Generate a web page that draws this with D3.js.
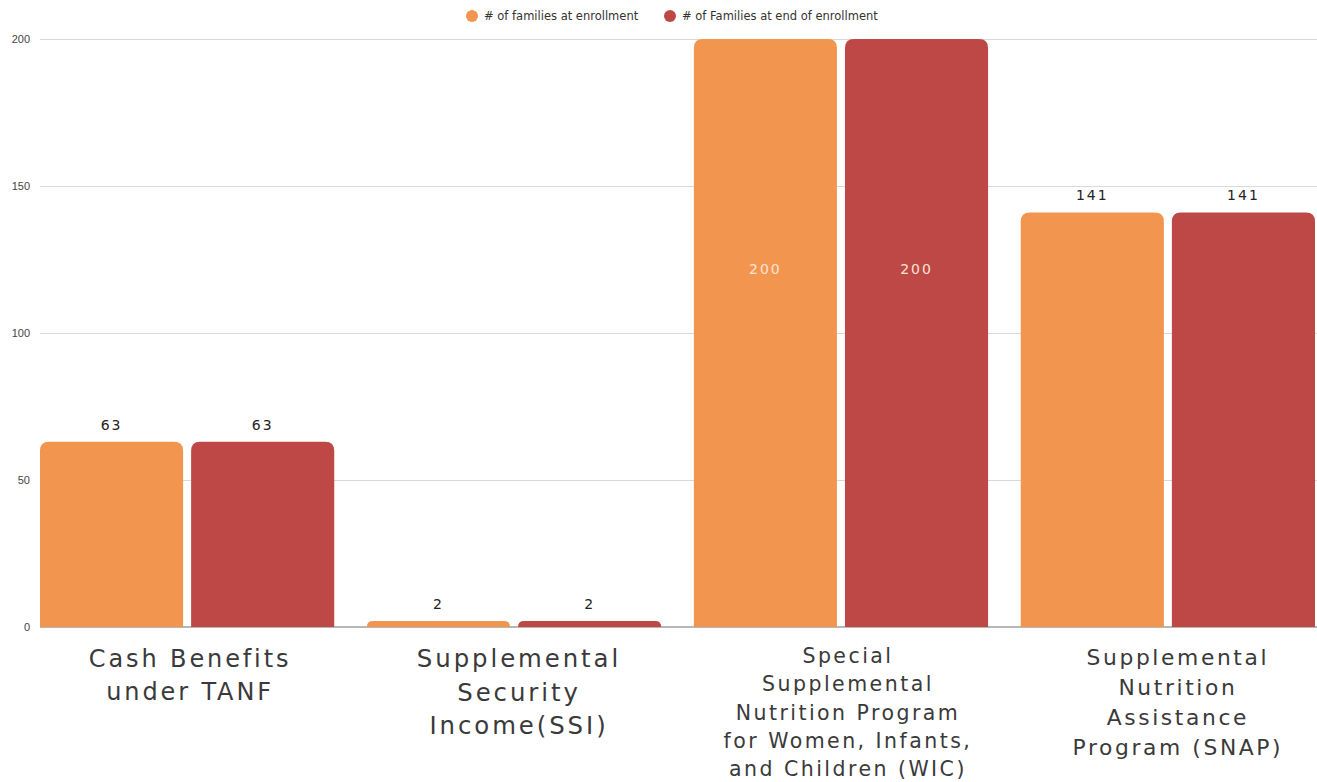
<!DOCTYPE html>
<html><head><meta charset="utf-8">
<script src="https://cdn.jsdelivr.net/npm/d3@7"></script>
<style>body{margin:0;background:#fff}svg{display:block}</style>
</head><body>
<svg id="c" width="1317" height="782"></svg>
<script>
const categories = [
  ["Cash Benefits", "under TANF"],
  ["Supplemental", "Security", "Income(SSI)"],
  ["Special", "Supplemental", "Nutrition Program", "for Women, Infants,", "and Children (WIC)"],
  ["Supplemental", "Nutrition", "Assistance", "Program (SNAP)"]
];
const seriesNames = ["# of families at enrollment", "# of Families at end of enrollment"];
const enrollment = [63, 2, 200, 141];
const endOfEnrollment = [63, 2, 200, 141];
const yTicks = [0, 50, 100, 150, 200];
const colors = ["#F2964F", "#BE4846"];
const labelSizes = [24, 24.4, 20.5, 21.8];
const labelNudge = [3, 5, 7, 10];
const labelTop = [667, 667, 663, 665];

const svg = d3.select("#c");
const font = "'DejaVu Sans', sans-serif";
const keys = categories.map((c, i) => "c" + i);
const x0 = d3.scaleBand().domain(keys).range([40, 1315]).paddingInner(0.1).paddingOuter(0);
const x1 = d3.scaleBand().domain([0, 1]).range([0, x0.bandwidth()]).paddingInner(0.053);
const y = d3.scaleLinear().domain([0, 200]).range([627, 39]);

// grid
const yAxis = d3.axisLeft(y).tickValues(yTicks).tickSize(-1277).tickPadding(10);
const ga = svg.append("g").attr("transform", "translate(40,0)").call(yAxis);
ga.select(".domain").remove();
ga.selectAll(".tick line").attr("stroke", "#d9d9d9").attr("stroke-width", 1);
ga.selectAll(".tick text").attr("fill", "#444").style("font-family", "Arial, 'Liberation Sans', sans-serif").style("font-size", "11px");

// baseline
svg.append("line").attr("x1", 40).attr("x2", 1317).attr("y1", y(0)).attr("y2", y(0)).attr("stroke", "#b7b7b7").attr("stroke-width", 2);

const data = categories.map((c, i) => ({ key: keys[i], vals: [enrollment[i], endOfEnrollment[i]] }));

function roundTop(x, yTop, w, h, r) {
  r = Math.min(r, h, w / 2);
  return `M${x},${yTop + h}V${yTop + r}Q${x},${yTop} ${x + r},${yTop}H${x + w - r}Q${x + w},${yTop} ${x + w},${yTop + r}V${yTop + h}Z`;
}

const g = svg.selectAll("g.grp").data(data).join("g").attr("class", "grp")
  .attr("transform", d => `translate(${x0(d.key)},0)`);

g.selectAll("path").data(d => d.vals.map((v, s) => ({ v, s }))).join("path")
  .attr("fill", d => colors[d.s])
  .attr("d", d => roundTop(x1(d.s), y(d.v), x1.bandwidth(), y(0) - y(d.v), 9));

g.selectAll("text.val").data(d => d.vals.map((v, s) => ({ v, s }))).join("text").attr("class", "val")
  .attr("x", d => x1(d.s) + x1.bandwidth() / 2)
  .attr("y", d => d.v >= 190 ? y(d.v * 0.6) : y(d.v) - 12)
  .attr("text-anchor", "middle")
  .attr("fill", d => d.v >= 190 ? "#fbe3d3" : "#222")
  .style("font-family", font).style("font-size", "14px").style("letter-spacing", "2px")
  .text(d => d.v);

// category labels
categories.forEach((lines, i) => {
  const cx = x0(keys[i]) + x0.bandwidth() / 2 + labelNudge[i];
  const fs = labelSizes[i];
  const t = svg.append("text").attr("text-anchor", "middle").attr("fill", "#3a3a3a")
    .style("font-family", font).style("font-size", fs + "px").style("letter-spacing", (fs * 0.12) + "px");
  lines.forEach((ln, j) => {
    t.append("tspan").attr("x", cx).attr("y", labelTop[i] + j * fs * 1.38).text(ln);
  });
});

// legend
const leg = svg.append("g");
const legX = [472, 670];
seriesNames.forEach((n, i) => {
  leg.append("circle").attr("cx", legX[i]).attr("cy", 16).attr("r", 6).attr("fill", colors[i]);
  leg.append("text").attr("x", legX[i] + 12).attr("y", 20).attr("fill", "#333")
    .style("font-family", font).style("font-size", "11.5px").text(n);
});
</script>
</body></html>
